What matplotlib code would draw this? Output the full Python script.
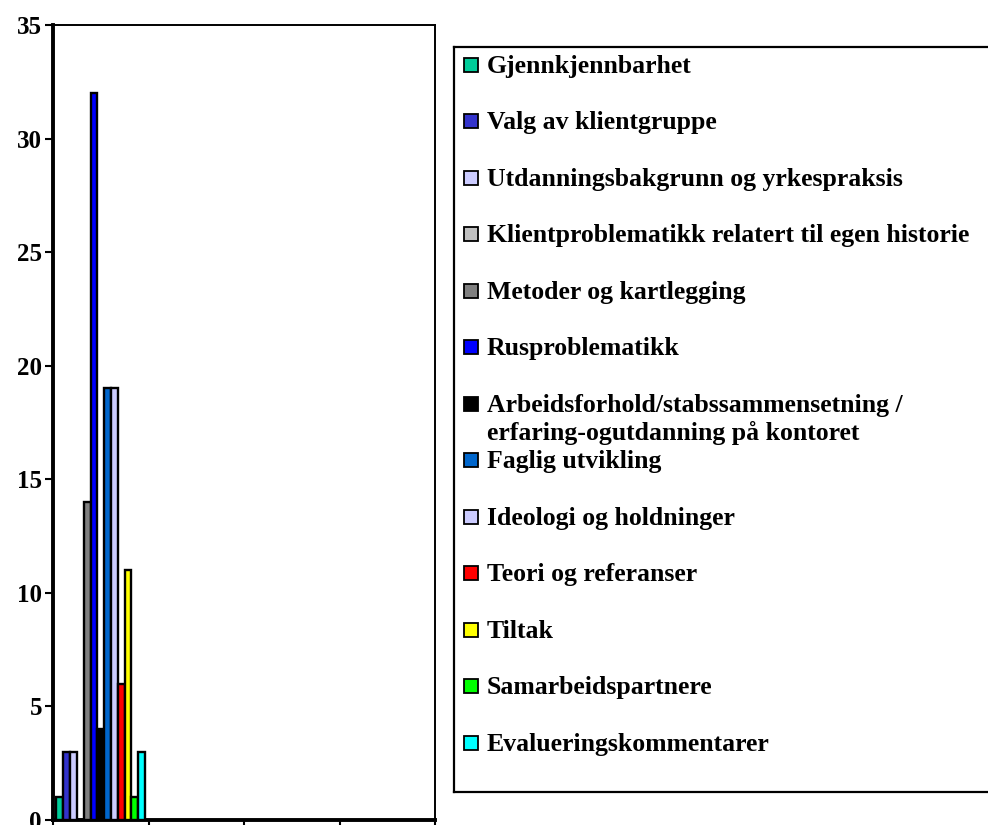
import matplotlib
matplotlib.use("Agg")
import matplotlib.pyplot as plt
from matplotlib.patches import Rectangle

# ---------- Data ----------
series = [
    "Gjennkjennbarhet",
    "Valg av klientgruppe",
    "Utdanningsbakgrunn og yrkespraksis",
    "Klientproblematikk relatert til egen historie",
    "Metoder og kartlegging",
    "Rusproblematikk",
    "Arbeidsforhold/stabssammensetning /\nerfaring-ogutdanning på kontoret",
    "Faglig utvikling",
    "Ideologi og holdninger",
    "Teori og referanser",
    "Tiltak",
    "Samarbeidspartnere",
    "Evalueringskommentarer",
]
values = [1, 3, 3, 0, 14, 32, 4, 19, 19, 6, 11, 1, 3]
colors = ["#00CC99", "#3333CC", "#CCCCFF", "#C0C0C0", "#808080", "#0000FF",
          "#000000", "#0066CC", "#CCCCFF", "#FF0000", "#FFFF00", "#00FF00",
          "#00FFFF"]
n_categories = 4
y_ticks = [0, 5, 10, 15, 20, 25, 30, 35]

plt.rcParams["font.family"] = ["Liberation Serif", "DejaVu Serif"]
plt.rcParams["font.weight"] = "bold"

W, H = 988, 825
fig = plt.figure(figsize=(W / 100, H / 100), dpi=100)

# ---------- Bars ----------
ax = fig.add_axes([53 / W, 5 / H, 382 / W, 795 / H])
step = 0.0715
n = len(values)
for i, (v, c) in enumerate(zip(values, colors)):
    x = 0.5 + (i - (n - 1) / 2) * step
    ax.bar(x, v, width=step, color=c, edgecolor="black", linewidth=1.7, zorder=3)

ax.set_xlim(0, n_categories)
ax.set_ylim(0, 35)
ax.set_xticks(range(n_categories + 1))
ax.set_xticklabels([])
ax.set_yticks(y_ticks)
ax.set_yticklabels([str(t) for t in y_ticks], fontsize=18, fontweight="bold")
ax.tick_params(axis="both", direction="out", length=6, width=1.5, pad=2)
ax.spines["left"].set_linewidth(2.8)
ax.spines["bottom"].set_linewidth(2.8)
ax.spines["top"].set_linewidth(1.4)
ax.spines["right"].set_linewidth(1.4)

# ---------- Legenda ----------
lx0, ly0, lw, lh = 454, 47, 600, 745
lax = fig.add_axes([lx0 / W, (H - ly0 - lh) / H, lw / W, lh / H])
lax.set_xlim(0, lw)
lax.set_ylim(lh, 0)
lax.set_xticks([])
lax.set_yticks([])
for s in lax.spines.values():
    s.set_linewidth(1.6)

for i, (name, c) in enumerate(zip(series, colors)):
    yc = 18 + 56.5 * i
    lax.add_patch(Rectangle((10, yc - 7), 14, 14, facecolor=c,
                            edgecolor="black", linewidth=1.3))
    for k, line in enumerate(name.split("\n")):
        lax.text(33, yc + 8 + 28 * k, line, fontsize=18.5, fontweight="bold",
                 va="baseline", ha="left")

fig.savefig("out.png", dpi=100)
